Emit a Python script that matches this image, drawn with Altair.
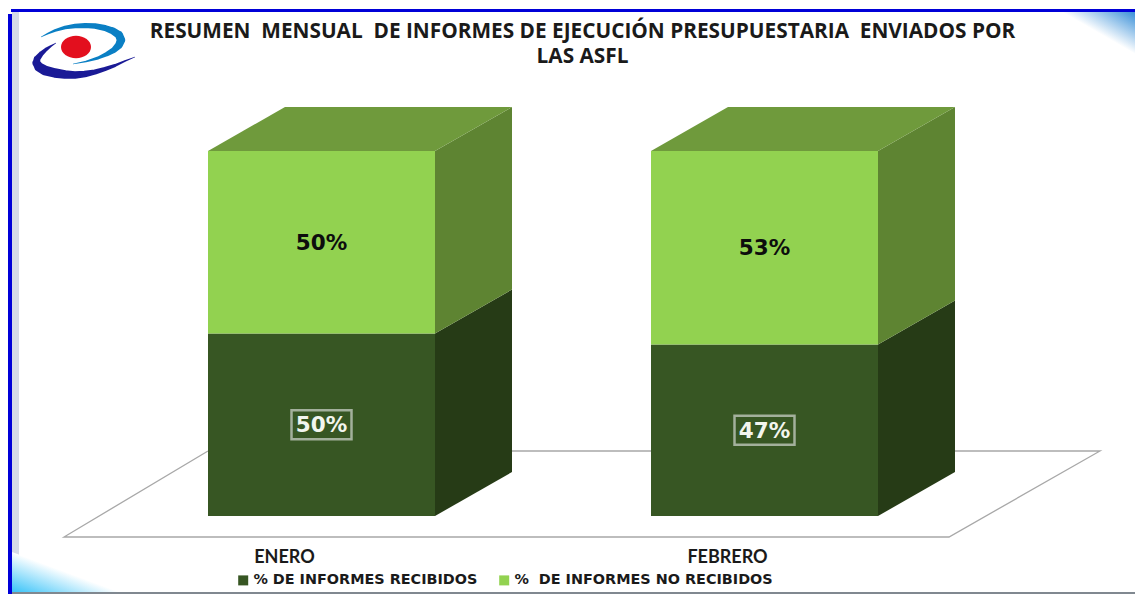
import altair as alt
import pandas as pd

# ---- chart values ----
months = ["ENERO", "FEBRERO"]
received = [50, 47]
not_received = [50, 53]
series_names = ["% DE INFORMES RECIBIDOS", "%\u00a0 DE INFORMES NO RECIBIDOS"]
title_lines = ["RESUMEN\u00a0 MENSUAL\u00a0 DE INFORMES DE EJECUCIÓN PRESUPUESTARIA\u00a0 ENVIADOS POR", "LAS ASFL"]

# ---- colours ----
front_dark, front_light = "#375623", "#92d250"
side_dark, side_light = "#263b16", "#5e8432"
top_light = "#6f9a3c"

# ---- geometry of the page in image pixels, converted to data units ----
X0, XS = 321.5, 443.0     # px of month 0, px per month
Y0, YS = 516.0, 3.65      # px of 0 %, px per 1 %
def ux(px): return (px - X0) / XS
def py(px): return (Y0 - px) / YS

HALF = 113.5 / XS
DX, DY = 77 / XS, 44 / YS

R, B = 1135, 594  # right and bottom edge of the drawable page
frame_x = [ux(8), ux(R)]
frame_y = [py(B), py(8)]
xs = alt.Scale(domain=frame_x, nice=False, zero=False)
ys = alt.Scale(domain=frame_y, nice=False, zero=False)
X = lambda f="x": alt.X(f"{f}:Q", scale=xs, axis=None, stack=None)
Y = lambda f="y": alt.Y(f"{f}:Q", scale=ys, axis=None, stack=None)

# ---- tables ----
front, side, top, labels = [], [], [], []
for i, m in enumerate(months):
    base = 0
    for name, v, col in ((series_names[0], received[i], "dark"), (series_names[1], not_received[i], "light")):
        front.append(dict(series=name, x=i - HALF, x2=i + HALF, y=base, y2=base + v))
        for k, (xv, off) in enumerate(((i + HALF, 0), (i + HALF + DX, DY))):
            side.append(dict(face=f"{i}{col}", tone=col, x=xv, y=base + off, y2=base + v + off))
        labels.append(dict(x=i, y=base + v / 2, text=f"{v}%", tone=col))
        base += v
    top.append(dict(face=i, y=base, x=i - HALF, x2=i + HALF))
    top.append(dict(face=i, y=base + DY, x=i - HALF + DX, x2=i + HALF + DX))
front, side, top, labels = map(pd.DataFrame, (front, side, top, labels))

floor_px = [(208, 451), (64, 537), (949, 537), (1100, 451), (208, 451)]
floor = pd.DataFrame([dict(o=k, x=ux(a), y=py(b)) for k, (a, b) in enumerate(floor_px)])

layers = []
bg = pd.DataFrame([dict(x=frame_x[0], x2=frame_x[1], y=frame_y[0], y2=frame_y[1])])
layers.append(alt.Chart(bg).mark_rect(color="#ffffff").encode(x=X(), x2="x2:Q", y=Y(), y2="y2:Q"))

def rect_px(x1, x2, y1, y2, color):
    d = pd.DataFrame([dict(x=ux(x1), x2=ux(x2), y=py(y1), y2=py(y2))])
    return alt.Chart(d).mark_rect(color=color).encode(x=X(), x2="x2:Q", y=Y(), y2="y2:Q")

# frame
layers.append(rect_px(12, 19, 12, B, "#d5dbe8"))
tr = pd.DataFrame([dict(x=ux(1062), y=py(12), y2=py(12)), dict(x=ux(R), y=py(12), y2=py(54))])
layers.append(alt.Chart(tr).mark_area(color=alt.Gradient(gradient="linear", x1=1, y1=0, x2=0.5, y2=0.5,
              stops=[alt.GradientStop(color="#3a90d8", offset=0), alt.GradientStop(color="#ffffff", offset=1)]))
              .encode(x=X(), y=Y(), y2="y2:Q"))
bl = pd.DataFrame([dict(x=ux(12), y=py(B), y2=py(552)), dict(x=ux(125), y=py(B), y2=py(B))])
layers.append(alt.Chart(bl).mark_area(color=alt.Gradient(gradient="linear", x1=0, y1=1, x2=0.5, y2=0.5,
              stops=[alt.GradientStop(color="#2fc0f8", offset=0), alt.GradientStop(color="#ffffff", offset=1)]))
              .encode(x=X(), y=Y(), y2="y2:Q"))
layers.append(rect_px(8, 12, 14, B, "#0000d8"))
layers.append(rect_px(11, R, 9, 12, "#0000d8"))
layers.append(rect_px(12, R, B - 2, B, "#808890"))

# logo
navy_px = [(56, 43, 0.3), (51, 46, 2), (46, 49.5, 3.5), (41, 54, 5), (37, 59, 6.5), (36.5, 63, 8), (39, 67, 9.5),
           (45, 70.5, 10), (55, 73, 9.5), (65, 74.5, 8.5), (75, 75, 7.5), (85, 74, 6.5), (95, 72, 5), (105, 69, 4),
           (115, 65.5, 3), (125, 61, 1.8), (135, 57, 0.3)]
blue_px = [(41, 37, 0.3), (48, 33.5, 1.5), (55, 30.5, 2.5), (65, 27.5, 3.5), (75, 26, 4.5), (85, 25.5, 5), (95, 26, 5.5),
           (105, 28, 6), (113, 31, 7), (119, 35, 8), (121, 40, 8.5), (119, 45, 7.5), (114, 50, 6), (107, 54, 4.5),
           (98, 58, 3), (86, 61.5, 1.5), (73, 64, 0.3)]
for pts, colr in ((navy_px, "#1a1a96"), (blue_px, "#0a7fc4")):
    d = pd.DataFrame([dict(o=k, x=ux(a), y=py(b), w=w) for k, (a, b, w) in enumerate(pts)])
    layers.append(alt.Chart(d).mark_trail(color=colr).encode(
        x=X(), y=Y(), order="o:Q", size=alt.Size("w:Q", scale=None, legend=None)))
dot = pd.DataFrame([dict(x=ux(76), y=py(47))])
layers.append(alt.Chart(dot).mark_point(filled=True, opacity=1, color="#e30f1e", size=900,
              shape="M -1,0 A 1,0.75 0 1,1 1,0 A 1,0.75 0 1,1 -1,0 Z").encode(x=X(), y=Y()))

# floor
layers.append(alt.Chart(floor).mark_line(color="#a8a8a8", strokeWidth=1.3).encode(x=X(), y=Y(), order="o:Q"))

# bars
tone_scale = alt.Scale(domain=["dark", "light"], range=[side_dark, side_light])
layers.append(alt.Chart(side).mark_area().encode(
    x=X(), y=Y(), y2="y2:Q", detail="face:N",
    fill=alt.Fill("tone:N", scale=tone_scale, legend=None)))
layers.append(alt.Chart(top).mark_area(orient="horizontal", color=top_light).encode(
    y=Y(), x=X(), x2="x2:Q", detail="face:N"))
layers.append(alt.Chart(front).mark_rect().encode(
    x=X(), x2="x2:Q", y=Y(), y2="y2:Q",
    color=alt.Color("series:N", scale=alt.Scale(domain=series_names, range=[front_dark, front_light]),
                    legend=alt.Legend(orient="none", legendX=228, legendY=565, direction="horizontal",
                                      columns=2, title=None, symbolType="square", symbolSize=100,
                                      symbolStrokeWidth=0, labelFont="DejaVu Sans", labelFontWeight="bold",
                                      labelFontSize=14.4, labelColor="#1a1a1a", columnPadding=19,
                                      labelOffset=3, labelLimit=400))))

# data labels
low = labels[labels.tone == "dark"].copy()
low["xa"], low["xb"] = low.x - 30 / XS, low.x + 30 / XS
low["ya"], low["yb"] = low.y - 14.5 / YS, low.y + 14.5 / YS
layers.append(alt.Chart(low).mark_rect(fill=None, stroke="#a3b09c", strokeWidth=2.5).encode(
    x=X("xa"), x2="xb:Q", y=Y("ya"), y2="yb:Q"))
layers.append(alt.Chart(labels).mark_text(font="DejaVu Sans", fontWeight="bold", fontSize=21.5, baseline="middle", dy=1.5).encode(
    x=X(), y=Y(), text="text:N",
    color=alt.Color("tone:N", scale=alt.Scale(domain=["dark", "light"], range=["#f2f5ee", "#0d0d0d"]), legend=None)))

# category labels
cats = pd.DataFrame([dict(x=i - 37 / XS, y=py(557.5), text=m) for i, m in enumerate(months)])
layers.append(alt.Chart(cats).mark_text(font="Lato", fontWeight="bold", fontSize=18, color="#1a1a1a", baseline="middle").encode(
    x=X(), y=Y(), text="text:N"))

chart = alt.layer(*layers).resolve_scale(color="independent", fill="independent").properties(
    width=R - 8, height=B - 8, padding=0, autosize=alt.AutoSizeParams(type="none"),
    background="#ffe6dc",
    title=alt.TitleParams(text=title_lines, font="Open Sans", fontWeight="bold", fontSize=20.8, color="#1a1a1a",
                          anchor="middle", frame="group", dx=11, dy=64, lineHeight=25),
).configure_view(stroke=None)

chart.save("out.html", embed_options={"renderer": "svg", "actions": False})
